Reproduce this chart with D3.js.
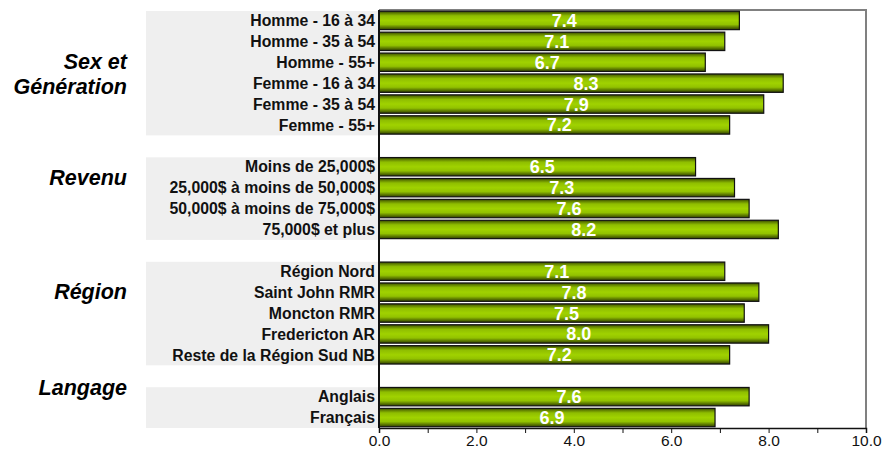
<!DOCTYPE html>
<html>
<head>
<meta charset="utf-8">
<script src="https://cdn.jsdelivr.net/npm/d3@7"></script>
<style>
  body { margin: 0; background: #fff; }
  svg { font-family: "Liberation Sans", Arial, sans-serif; }
</style>
</head>
<body>
<div id="container"></div>
<script>
/* DATA */
const groupNames = ["Sex et|Génération", "Revenu", "Région", "Langage"];

const sexGenLabels = ["Homme - 16 à 34", "Homme - 35 à 54", "Homme - 55+", "Femme - 16 à 34", "Femme - 35 à 54", "Femme - 55+"];
const sexGenValues = [7.4, 7.1, 6.7, 8.3, 7.9, 7.2];

const revenuLabels = ["Moins de 25,000$", "25,000$ à moins de 50,000$", "50,000$ à moins de 75,000$", "75,000$ et plus"];
const revenuValues = [6.5, 7.3, 7.6, 8.2];

const regionLabels = ["Région Nord", "Saint John RMR", "Moncton RMR", "Fredericton AR", "Reste de la Région Sud NB"];
const regionValues = [7.1, 7.8, 7.5, 8.0, 7.2];

const langueLabels = ["Anglais", "Français"];
const langueValues = [7.6, 6.9];

const xTicks = [0, 1, 2, 3, 4, 5, 6, 7, 8, 9, 10];

/* CONSTANTS */
const width = 884, height = 452;
const plotLeft = 379, plotRight = 866, plotTop = 10, plotBottom = 428;
const panelLeft = 146;
const groupLabelX = 127;
const groupLabelDy = [-11, -21, -22, -20]; // offset of first line from group centre

// build slot list: groups separated by a blank slot
const groupSets = [
  [sexGenLabels, sexGenValues],
  [revenuLabels, revenuValues],
  [regionLabels, regionValues],
  [langueLabels, langueValues]
];
const rows = [];
const slots = [];
groupSets.forEach(([labels, values], g) => {
  if (g > 0) slots.push("gap" + g);
  labels.forEach((l, i) => {
    rows.push({ group: g, label: l, value: values[i] });
    slots.push(l);
  });
});

const svg = d3.select("#container")
  .append("svg")
  .attr("width", width)
  .attr("height", height);

/* SCALES */
const xScale = d3.scaleLinear().domain([0, 10]).range([plotLeft, plotRight]);
const yScale = d3.scaleBand().domain(slots).range([plotTop, plotBottom]).paddingInner(0.12).paddingOuter(0.06);
const step = yScale.step();

// gradient for bars
const grad = svg.append("defs").append("linearGradient")
  .attr("id", "barGrad").attr("x1", 0).attr("y1", 0).attr("x2", 0).attr("y2", 1);
[[0, "#324300"], [0.1, "#5f7d00"], [0.25, "#8fbe00"], [0.5, "#a0d200"], [0.72, "#92c200"], [0.86, "#617f00"], [1, "#2f3f00"]]
  .forEach(([o, c]) => grad.append("stop").attr("offset", o).attr("stop-color", c));

// gray panels behind the category labels
groupSets.forEach(([labels], g) => {
  const y0 = yScale(labels[0]) - (step - yScale.bandwidth()) / 2;
  const y1 = yScale(labels[labels.length - 1]) + yScale.bandwidth() + (step - yScale.bandwidth()) / 2;
  svg.append("rect")
    .attr("x", panelLeft).attr("y", y0 + 1)
    .attr("width", plotLeft - panelLeft).attr("height", Math.min(y1, plotBottom) - y0 - 1)
    .attr("fill", "#efefef");

  // group label
  const lines = groupNames[g].split("|");
  const yc = (y0 + y1) / 2 + groupLabelDy[g];
  svg.append("text")
    .attr("x", groupLabelX).attr("y", yc)
    .attr("text-anchor", "end")
    .attr("font-size", 21.5).attr("font-weight", "bold").attr("font-style", "italic")
    .selectAll("tspan").data(lines).join("tspan")
    .attr("x", groupLabelX)
    .attr("dy", (d, i) => i === 0 ? "0.35em" : "1.17em")
    .text(d => d);
});

// frame (top and right)
svg.append("path")
  .attr("d", `M${plotLeft},${plotTop}H${plotRight}V${plotBottom}`)
  .attr("fill", "none").attr("stroke", "#808080").attr("stroke-width", 2);

/* BARS */
svg.selectAll("rect.bar")
  .data(rows)
  .join("rect")
  .attr("class", "bar")
  .attr("x", xScale(0))
  .attr("y", d => yScale(d.label))
  .attr("width", d => xScale(d.value) - xScale(0))
  .attr("height", yScale.bandwidth())
  .attr("fill", "url(#barGrad)")
  .attr("stroke", "#111")
  .attr("stroke-width", 1.2);

// value labels (sit a little right of the bar middle)
svg.selectAll("text.val")
  .data(rows)
  .join("text")
  .attr("class", "val")
  .attr("x", d => (xScale(0) + xScale(d.value)) / 2 + 5)
  .attr("y", d => yScale(d.label) + yScale.bandwidth() / 2)
  .attr("dy", "0.36em")
  .attr("text-anchor", "middle")
  .attr("fill", "#fff")
  .attr("font-size", 18).attr("font-weight", "bold")
  .text(d => d.value.toFixed(1));

// category labels
svg.selectAll("text.cat")
  .data(rows)
  .join("text")
  .attr("class", "cat")
  .attr("x", plotLeft - 4)
  .attr("y", d => yScale(d.label) + yScale.bandwidth() / 2)
  .attr("dy", "0.36em")
  .attr("text-anchor", "end")
  .attr("font-size", 15.8).attr("font-weight", "bold")
  .attr("fill", "#111")
  .text(d => d.label);

/* AXES */
const xAxis = d3.axisBottom(xScale)
  .tickValues(xTicks)
  .tickSize(5)
  .tickFormat(d => d % 2 === 0 ? d3.format(".1f")(d) : "");

const gx = svg.append("g")
  .attr("transform", `translate(0,${plotBottom})`)
  .call(xAxis);
gx.select(".domain").attr("stroke", "#111").attr("stroke-width", 1.5);
gx.selectAll(".tick line").attr("stroke", "#111");
gx.selectAll(".tick text").attr("font-size", 15.5).attr("fill", "#111").attr("dy", "0.62em")
  .attr("font-family", "'Liberation Sans', Arial, sans-serif");

// left axis line
svg.append("line")
  .attr("x1", plotLeft).attr("x2", plotLeft)
  .attr("y1", plotTop).attr("y2", plotBottom)
  .attr("stroke", "#111").attr("stroke-width", 2);
</script>
</body>
</html>
